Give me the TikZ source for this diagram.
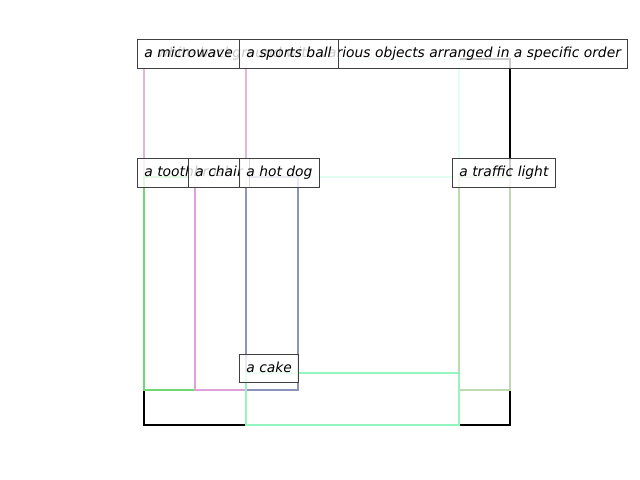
\documentclass[tikz,border=0pt]{standalone}
\usepackage{fontspec}
\setmainfont{DejaVu Sans}
\usepackage{tikz}
\definecolor{bgblack}{HTML}{000000}
\definecolor{microwavepink}{HTML}{E8B4DC}
\definecolor{ballmint}{HTML}{E0FFF0}
\definecolor{brushgreen}{HTML}{70D870}
\definecolor{chairplum}{HTML}{DDA0D8}
\definecolor{hotdogblue}{HTML}{8C94BC}
\definecolor{lightolive}{HTML}{C0D8B0}
\definecolor{cakemint}{HTML}{94F5C0}
\tikzstyle{bbox} = [line width=2pt]
\tikzstyle{bgbox} = [line width=2pt, 
draw=bgblack]
\tikzstyle{tag} = [rectangle, 
anchor=west, 
draw=black!75, 
line width=0.7pt, 
fill=white, 
fill opacity=0.8, 
text opacity=1, 
inner sep=5pt, 
text height=7.8pt, 
text depth=2.6pt, 
font=\itshape]

\begin{document}
\begin{tikzpicture}[x=0.01in, y=-0.01in]

    \useasboundingbox (0,0) rectangle (640,480);

    % boxes
    \draw [bgbox] (144,59) rectangle (510,425);
    \draw [bbox, draw=ballmint] (246,59) rectangle (459,177);
    \draw [bbox, draw=microwavepink] (144,59) rectangle (246,177);
    \draw [bbox, draw=brushgreen] (144,177) rectangle (195,390);
    \draw [bbox, draw=chairplum] (195,177) rectangle (246,390);
    \draw [bbox, draw=hotdogblue] (246,177) rectangle (298,390);
    \draw [bbox, draw=lightolive] (459,177) rectangle (510,390);
    \draw [bbox, draw=cakemint] (246,373) rectangle (459,425);

    % labels
    \node (bg_tag) [tag] at (137,54) {a white background with various objects arranged in a specific order};
    \node (microwave_tag) [tag] at (137,54) {a microwave};
    \node (ball_tag) [tag] at (239,54) {a sports ball};
    \node (brush_tag) [tag] at (137,173) {a toothbrush};
    \node (chair_tag) [tag] at (188,173) {a chair};
    \node (hotdog_tag) [tag] at (239,173) {a hot dog};
    \node (light_tag) [tag] at (452,173) {a traffic light};
    \node (cake_tag) [tag] at (239,368.5) {a cake};

  \end{tikzpicture}
\end{document}
